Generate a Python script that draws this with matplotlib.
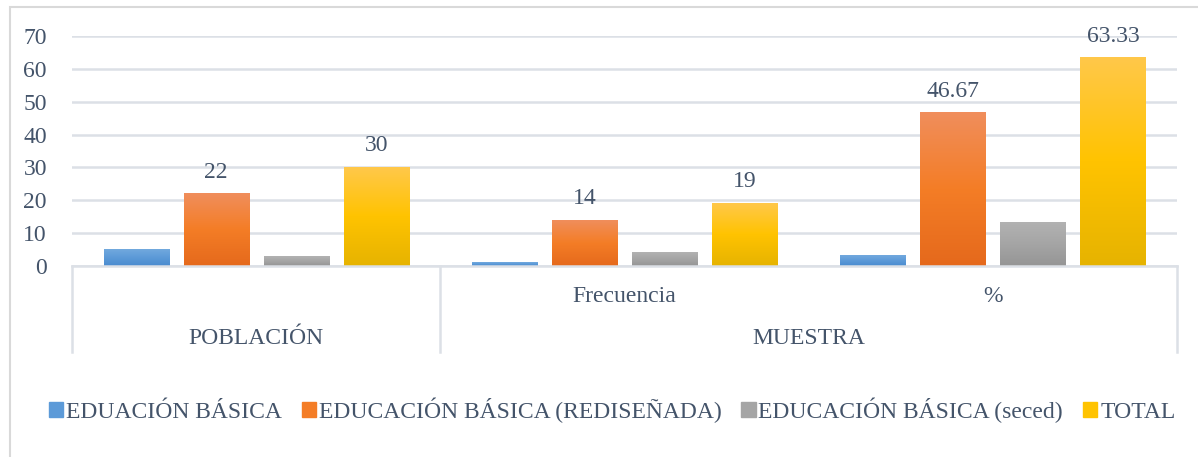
import numpy as np
import matplotlib
matplotlib.use('Agg')
import matplotlib.pyplot as plt
from matplotlib.colors import LinearSegmentedColormap
from matplotlib.patches import Rectangle

# datos
grupos = ['POBLACIÓN', 'MUESTRA']
subcategorias = ['', 'Frecuencia', '%']
series = ['EDUACIÓN BÁSICA', 'EDUCACIÓN BÁSICA (REDISEÑADA)',
          'EDUCACIÓN BÁSICA (seced)', 'TOTAL']
basica = [5, 1, 3.33]
rediseñada = [22, 14, 46.67]
seced = [3, 4, 13.33]
total = [30, 19, 63.33]
etiquetas_rediseñada = ['22', '14', '46.67']
etiquetas_total = ['30', '19', '63.33']

# colores degradado (arriba, medio, abajo)
degradados = [['#72A9DE', '#5C9AD8', '#4A8BCF'],
              ['#F08E5C', '#F47D26', '#E5691C'],
              ['#B2B2B2', '#A5A5A5', '#959595'],
              ['#FFC84A', '#FFC300', '#E6B300']]
texto = '#44546A'
rejilla = '#DCE0E6'

plt.rcParams['font.family'] = ['Liberation Serif', 'DejaVu Serif']
plt.rcParams['font.size'] = 17

fig = plt.figure(figsize=(11.98, 4.57), dpi=100)
ax = fig.add_axes([72/1198, 191/457, 1105/1198, 230/457])

x = np.arange(3)
paso = 80/368
ancho = 65/368
valores = [basica, rediseñada, seced, total]

ax.set_xlim(-0.5, 2.5)
ax.set_ylim(0, 70)
for i, serie in enumerate(valores):
    barras = ax.bar(x + (i - 1.5)*paso, serie, ancho, color='none', zorder=3)
    cmap = LinearSegmentedColormap.from_list('g%d' % i, degradados[i])
    grad = np.linspace(0, 1, 256).reshape(-1, 1)
    for b in barras:
        x0 = b.get_x()
        ax.imshow(grad, cmap=cmap, aspect='auto', origin='upper',
                  extent=[x0, x0 + b.get_width(), 0, b.get_height()], zorder=3)
    if i == 1:
        ax.bar_label(barras, labels=etiquetas_rediseñada, padding=8, color=texto, fontsize=17)
    if i == 3:
        ax.bar_label(barras, labels=etiquetas_total, padding=8, color=texto, fontsize=17)
ax.set_xlim(-0.5, 2.5)
ax.set_ylim(0, 70)

ax.set_yticks(range(0, 71, 10))
ax.yaxis.grid(True, color=rejilla, linewidth=1.8, zorder=0)
ax.set_axisbelow(True)
ax.tick_params(axis='y', length=0, pad=18, colors=texto, labelsize=17)
ax.set_xticks([])
for s in ax.spines.values():
    s.set_visible(False)

# eje de categorías en dos niveles
ax2 = fig.add_axes([72/1198, 105/457, 1105/1198, 86/457], sharex=ax)
ax2.set_ylim(0, 1)
ax2.axis('off')
ax2.axhline(1, color=rejilla, linewidth=1.8, clip_on=False)
for xv in [-0.5, 0.5, 2.5]:
    ax2.axvline(xv, color=rejilla, linewidth=1.8, clip_on=False)
for xi, sub in zip(x, subcategorias):
    ax2.text(xi, 0.65, sub, ha='center', va='center', color=texto, fontsize=17)
ax2.text(0, 0.16, grupos[0], ha='center', va='center', color=texto, fontsize=17)
ax2.text(1.5, 0.16, grupos[1], ha='center', va='center', color=texto, fontsize=17)

# leyenda
handles = [Rectangle((0, 0), 1, 1, color=d[1]) for d in degradados]
fig.legend(handles, series, loc='center', bbox_to_anchor=(612/1198, 1 - 410/457),
           ncol=4, frameon=False, handlelength=0.6, handleheight=0.6,
           handletextpad=0.12, columnspacing=0.85, labelcolor=texto, fontsize=17)

# borde del gráfico
fig.patches.append(Rectangle((10/1198, -0.1), 1.2, 1 - 7/457 + 0.1, transform=fig.transFigure,
                             fill=False, edgecolor='#D9D9D9', linewidth=1.5))

fig.savefig('out.png', dpi=100)
